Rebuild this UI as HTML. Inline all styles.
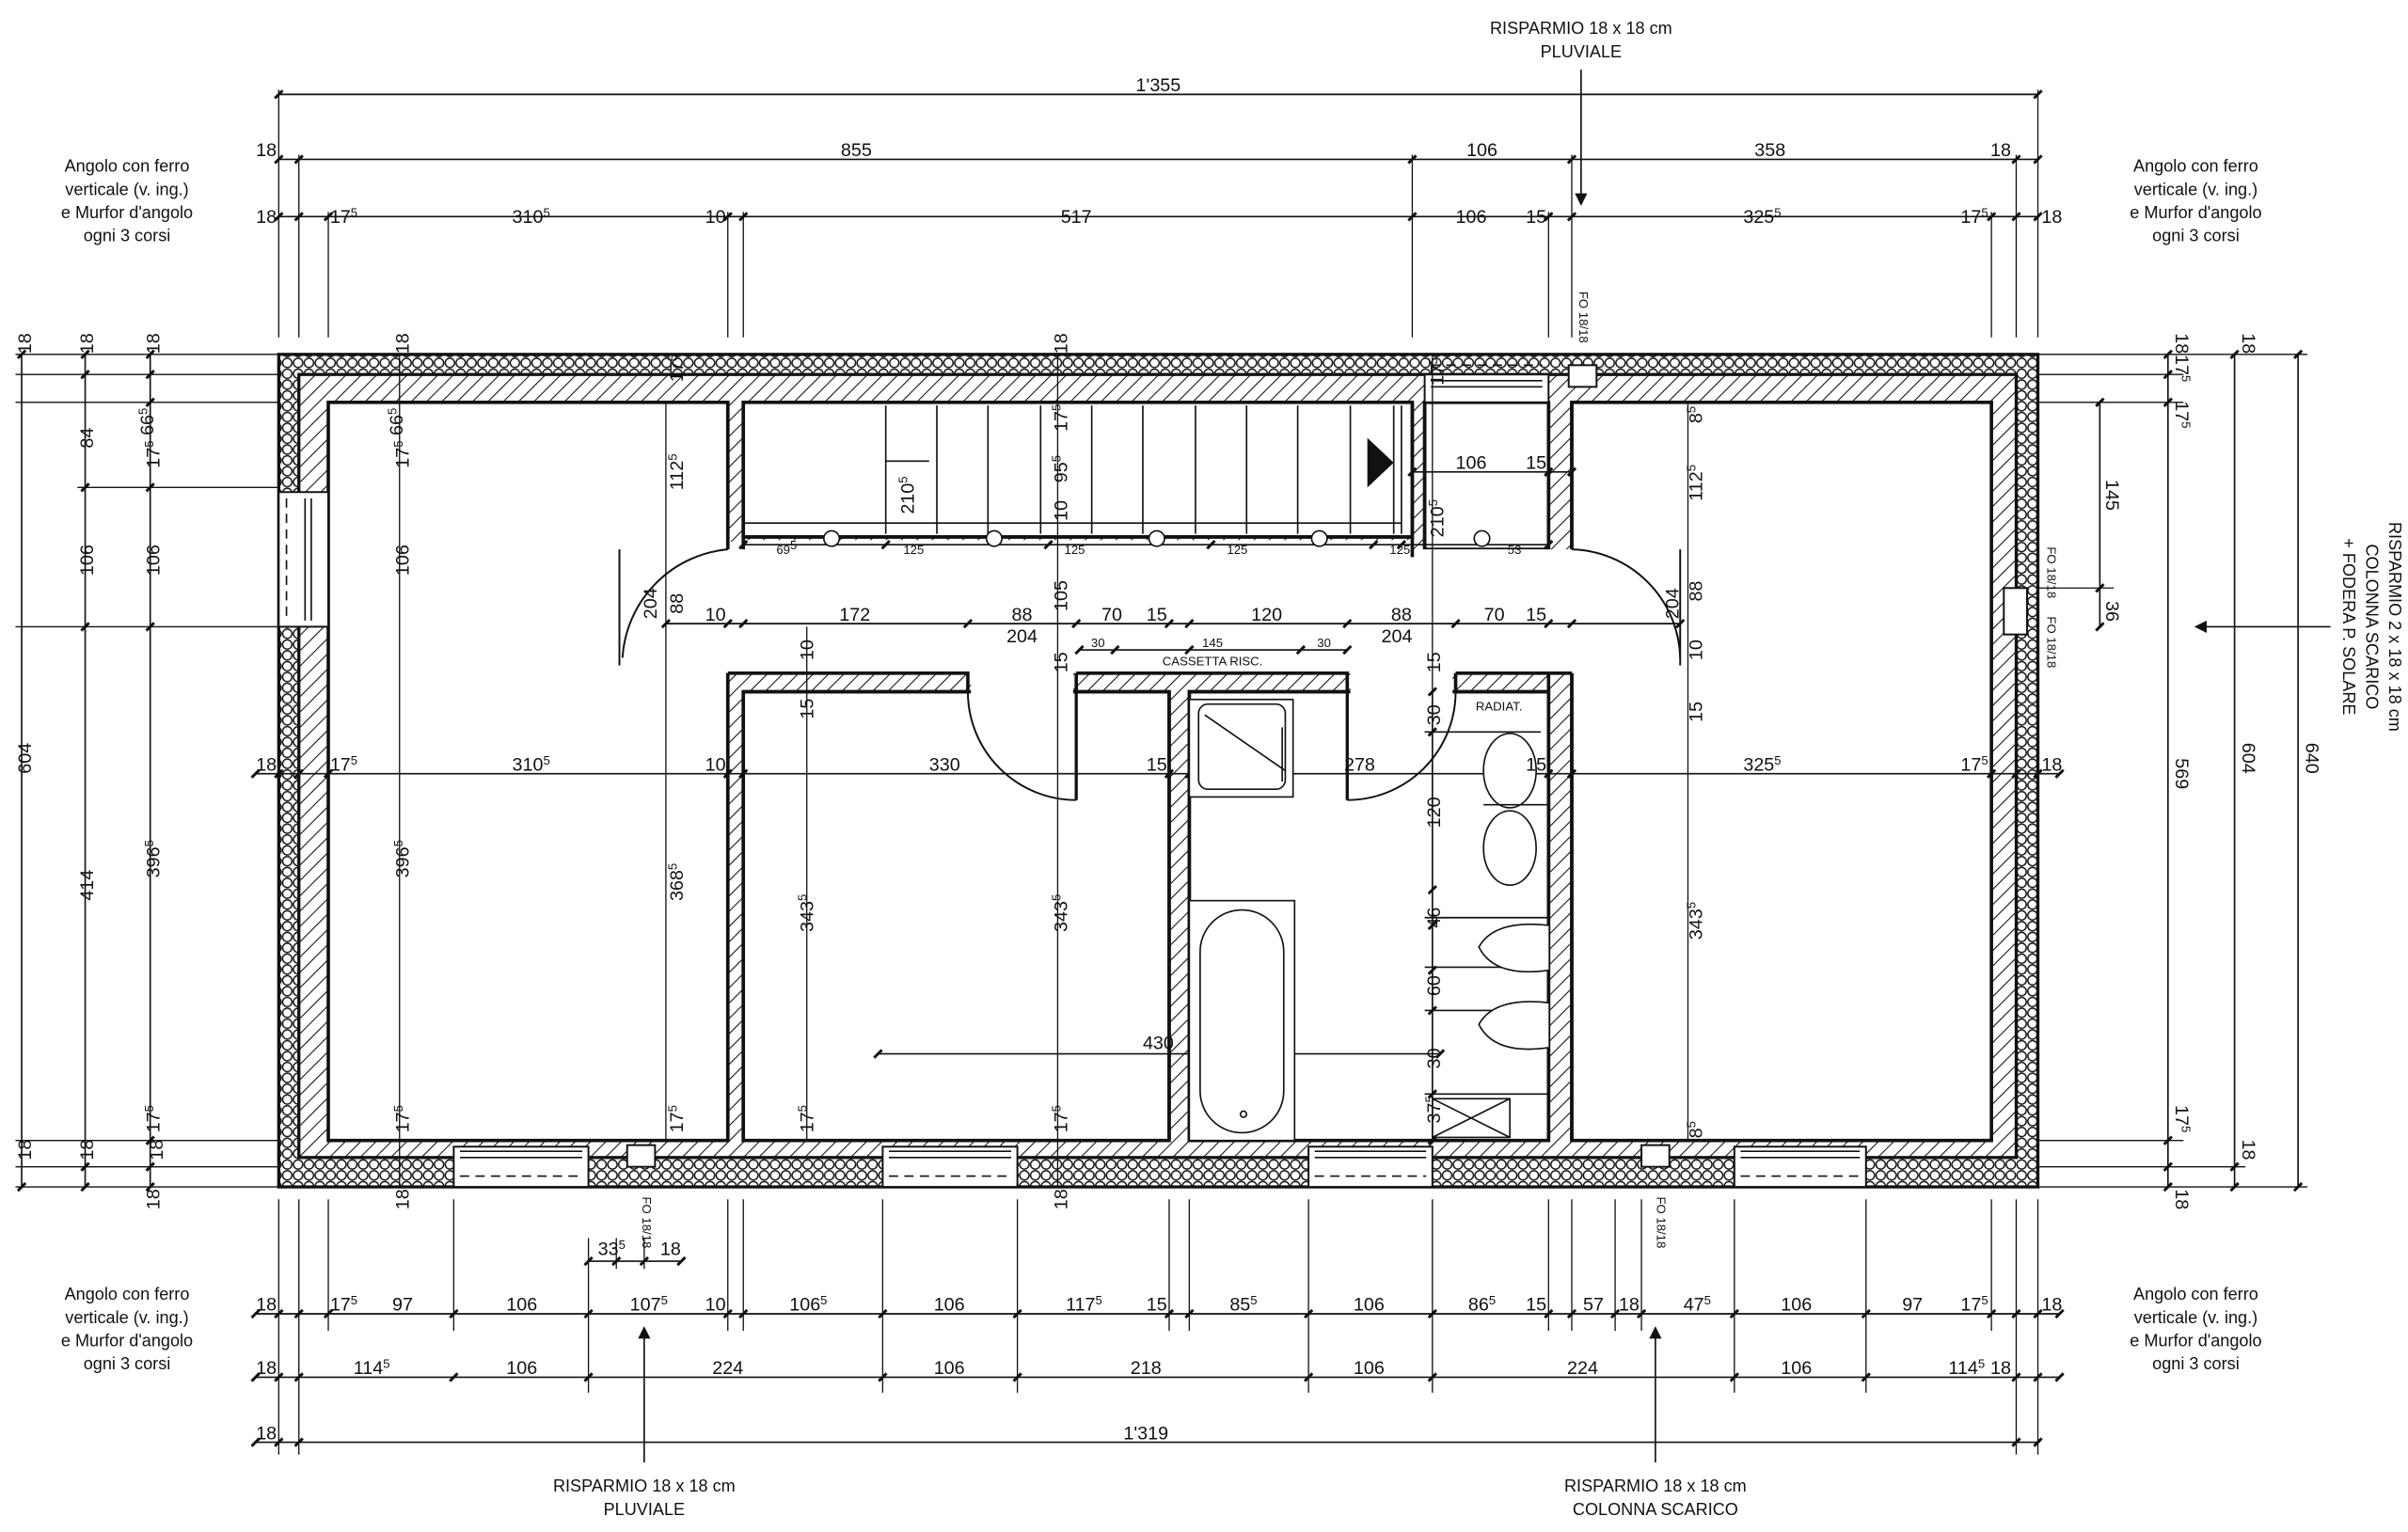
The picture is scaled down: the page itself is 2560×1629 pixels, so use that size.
<!DOCTYPE html>
<html><head><meta charset="utf-8"><style>
html,body{margin:0;padding:0;background:#fff}
svg{display:block}
text{font-family:"Liberation Sans",sans-serif;font-size:12px;fill:#111}
.s{font-size:8px}
.t{font-size:11px}
</style></head><body>
<svg width="2560" height="1629" viewBox="0 0 1555 990" preserveAspectRatio="none" xmlns="http://www.w3.org/2000/svg">
<defs>
<pattern id="h" width="7" height="7" patternUnits="userSpaceOnUse" patternTransform="rotate(45)"><rect width="7" height="7" fill="#fff"/><line x1="0" y1="0" x2="0" y2="7" stroke="#111" stroke-width="1.3"/></pattern>
<pattern id="c" width="7" height="7" patternUnits="userSpaceOnUse"><rect width="7" height="7" fill="#fff"/><circle cx="3.5" cy="3.5" r="3" fill="none" stroke="#111" stroke-width="0.9"/></pattern>
<marker id="t" markerWidth="8" markerHeight="8" refX="4" refY="4" markerUnits="userSpaceOnUse" orient="0"><path d="M1.5,6.5 L6.5,1.5" stroke="#111" stroke-width="1.8"/></marker>
<marker id="a" markerWidth="10" markerHeight="10" refX="5" refY="5" markerUnits="userSpaceOnUse" orient="auto"><path d="M0,1 L8,5 L0,9z" fill="#111"/></marker>
</defs>
<g fill="none" stroke="#111" stroke-width="0.8">
<path d="M180,58V218M193,100V218M212,137V218M470,137V218M480,137V218M912,100V218M1000,137V218M1015,100V218M1286,137V218M1302,100V218M1316,58V218"/>
<path d="M180,775V940M193,775V940M212,775V860M293,775V860M380,800V900M398,800V820M416,800V820M470,775V860M480,775V860M570,775V900M657,775V900M755,775V860M768,775V860M845,775V900M925,775V900M1000,775V860M1015,775V860M1043,775V860M1060,775V860M1120,775V900M1205,775V900M1286,775V860M1302,775V940M1316,775V940"/>
<path d="M10,229H180M10,242H180M10,260H180M50,315H180M10,405H180M10,737H180M10,754H180M10,767H180M1316,229H1490M1316,242H1410M1316,260H1410M1316,380H1365M1316,737H1410M1316,754H1450M1316,767H1490"/>
</g>
<g fill="none" stroke="#111" stroke-width="1" marker-start="url(#t)" marker-mid="url(#t)" marker-end="url(#t)">
<polyline points="180,61 1316,61"/>
<polyline points="180,103 193,103 912,103 1015,103 1302,103 1316,103"/>
<polyline points="180,140 193,140 212,140 470,140 480,140 912,140 1000,140 1015,140 1286,140 1302,140 1316,140"/>
<polyline points="165,849 180,849 193,849 212,849 293,849 380,849 470,849 480,849 570,849 657,849 755,849 768,849 845,849 925,849 1000,849 1015,849 1043,849 1060,849 1120,849 1205,849 1286,849 1302,849 1316,849 1330,849"/>
<polyline points="165,890 180,890 193,890 293,890 380,890 570,890 657,890 845,890 925,890 1120,890 1205,890 1302,890 1316,890 1330,890"/>
<polyline points="165,932 180,932 193,932 1302,932 1316,932"/>
<polyline points="380,815 398,815 416,815 440,815"/>
<polyline points="14,229 14,767"/>
<polyline points="55,229 55,242 55,315 55,405 55,754 55,767"/>
<polyline points="97,229 97,242 97,260 97,315 97,405 97,737 97,754 97,767"/>
<polyline points="1356,260 1356,380 1356,405"/>
<polyline points="1400,229 1400,242 1400,260 1400,737 1400,754 1400,767"/>
<polyline points="1443,229 1443,754 1443,767"/>
<polyline points="1484,229 1484,767"/>
</g>
<rect x="180" y="229" width="1136" height="538" fill="url(#c)" stroke="#111" stroke-width="2"/>
<rect x="193" y="242" width="1109" height="506" fill="url(#h)" stroke="#111" stroke-width="2"/>
<g fill="#fff" stroke="#111" stroke-width="2.2">
<rect x="212" y="260" width="258" height="477"/>
<rect x="480" y="260" width="432" height="87"/>
<rect x="920" y="260" width="80" height="95"/>
<rect x="480" y="447" width="275" height="290"/>
<rect x="768" y="447" width="232" height="290"/>
<rect x="1015" y="260" width="271" height="477"/>
</g>
<g fill="#fff" stroke="none">
<rect x="432" y="350" width="51" height="84"/>
<rect x="995" y="356" width="60" height="78"/>
<rect x="482" y="349" width="428" height="10"/>
<rect x="432" y="355" width="651" height="80"/>
<rect x="627" y="433" width="66" height="16"/>
<rect x="872" y="433" width="66" height="16"/>
<rect x="470" y="433" width="10" height="2"/>
</g>
<g fill="none" stroke="#111" stroke-width="2.2">
<path d="M470,260V355M480,260V355M480,347H912M470,435V737M480,447V737M470,435H625V447H480M695,435H870V447H768V737M755,447V737M695,435V447H755M940,435H1000V737M940,435V447H1000M1000,260V355M1015,260V355M1015,435V737M1000,435H1015M912,260V360M920,260V355"/>
</g>
<g fill="#fff" stroke="#111" stroke-width="1.2">
<rect x="293" y="741" width="87" height="26"/><rect x="570" y="741" width="87" height="26"/><rect x="845" y="741" width="80" height="26"/><rect x="1120" y="741" width="85" height="26"/>
<rect x="180" y="318" width="32" height="87"/>
<rect x="920" y="242" width="80" height="18"/>
</g>
<g fill="none" stroke="#111" stroke-width="1">
<path d="M297,744H376M297,748H376M574,744H653M574,748H653M849,744H921M849,748H921M1124,744H1201M1124,748H1201M197,322V401M201,322V401M924,246H996M924,250H996"/>
<path stroke-dasharray="6,4" d="M297,760H376M574,760H653M849,760H921M1124,760H1201M185,322V401M924,236H996"/>
</g>
<!-- interior dimension lines (drawn over rooms) -->
<g fill="none" stroke="#111" stroke-width="0.8">
<path d="M258,229V767M430,260V737M521,405V737M683,229V767M925,229V737M1090,260V737"/>
</g>
<g fill="none" stroke="#111" stroke-width="1" marker-start="url(#t)" marker-mid="url(#t)" marker-end="url(#t)">
<polyline points="165,500 180,500 193,500 212,500 470,500 480,500 755,500 768,500 1000,500 1015,500 1286,500 1302,500 1316,500 1330,500"/>
<polyline points="430,403 470,403 480,403 625,403 695,403 755,403 768,403 870,403 940,403 1000,403 1015,403 1085,403"/>
<polyline points="697,420 720,420 768,420 840,420 870,420"/>
<polyline points="912,305 1000,305 1015,305"/>
<polyline points="567,681 930,681"/>
<polyline points="480,352 572,352 677,352 782,352 887,352 905,352 1000,352"/>
<polyline points="925,447 925,473 925,575 925,598 925,627 925,653 925,707 925,737"/>
</g>
<g fill="none" stroke="#111" stroke-width="1.2">
<path d="M470,355 A75,75 0 0 0 402,425"/><path d="M400,355V430"/>
<path d="M1015,355 A72,72 0 0 1 1085,425"/><path d="M1085,355V430"/>
<path d="M625,447 A70,70 0 0 0 695,517"/><path d="M695,447V517" stroke-width="2"/>
<path d="M940,447 A70,70 0 0 1 870,517"/><path d="M870,447V517" stroke-width="2"/>
</g>
<g fill="none" stroke="#111" stroke-width="1">
<path d="M572,262V345M605,262V345M638,262V345M672,262V345M705,262V345M738,262V345M772,262V345M805,262V345M838,262V345M872,262V345M900,262V345M905,262V345M572,298H600M480,338H905"/>
<circle cx="537" cy="348" r="5" fill="#fff"/><circle cx="642" cy="348" r="5" fill="#fff"/><circle cx="747" cy="348" r="5" fill="#fff"/><circle cx="852" cy="348" r="5" fill="#fff"/><circle cx="957" cy="348" r="5" fill="#fff"/>
</g>
<path d="M883,283 L900,299 L883,315z" fill="#111"/>
<g fill="none" stroke="#111" stroke-width="1">
<rect x="768" y="452" width="67" height="63" fill="#fff"/><rect x="774" y="455" width="56" height="55" rx="6"/><path d="M778,462L830,498M828,470V505"/>
<rect x="768" y="582" width="68" height="155" fill="#fff"/><rect x="775" y="588" width="54" height="144" rx="27"/><circle cx="803" cy="720" r="2"/>
<ellipse cx="975" cy="498" rx="17" ry="24" fill="#fff"/><ellipse cx="975" cy="548" rx="17" ry="24" fill="#fff"/><path d="M958,520H1000M920,473H995"/>
<path d="M920,593H1000M920,625H1000M920,653H1000M920,707H1000"/>
<path d="M1000,598 Q965,594 955,612 Q965,632 1000,627" fill="#fff"/><path d="M1000,648 Q965,644 955,662 Q965,682 1000,677" fill="#fff"/>
<rect x="925" y="710" width="50" height="25"/><path d="M925,710L975,735M975,710L925,735"/>
</g>
<g fill="#fff" stroke="#111" stroke-width="1.2"><rect x="405" y="740" width="18" height="14"/><rect x="1060" y="740" width="18" height="14"/><rect x="1294" y="380" width="15" height="30"/><rect x="1013" y="236" width="18" height="14"/></g>
<g stroke="#111" stroke-width="1" fill="none">
<line x1="1021" y1="45" x2="1021" y2="130" marker-end="url(#a)"/>
<line x1="416" y1="945" x2="416" y2="860" marker-end="url(#a)"/>
<line x1="1069" y1="945" x2="1069" y2="860" marker-end="url(#a)"/>
<line x1="1505" y1="405" x2="1420" y2="405" marker-end="url(#a)"/>
</g>
<g text-anchor="middle" class="t">
<text x="82" y="111" class="t">Angolo con ferro</text><text x="82" y="126" class="t">verticale (v. ing.)</text><text x="82" y="141" class="t">e Murfor d'angolo</text><text x="82" y="156" class="t">ogni 3 corsi</text>
<text x="1418" y="111" class="t">Angolo con ferro</text><text x="1418" y="126" class="t">verticale (v. ing.)</text><text x="1418" y="141" class="t">e Murfor d'angolo</text><text x="1418" y="156" class="t">ogni 3 corsi</text>
<text x="82" y="840" class="t">Angolo con ferro</text><text x="82" y="855" class="t">verticale (v. ing.)</text><text x="82" y="870" class="t">e Murfor d'angolo</text><text x="82" y="885" class="t">ogni 3 corsi</text>
<text x="1418" y="840" class="t">Angolo con ferro</text><text x="1418" y="855" class="t">verticale (v. ing.)</text><text x="1418" y="870" class="t">e Murfor d'angolo</text><text x="1418" y="885" class="t">ogni 3 corsi</text>
<text x="1021" y="22" class="t">RISPARMIO 18 x 18 cm</text><text x="1021" y="37" class="t">PLUVIALE</text>
<text x="416" y="964" class="t">RISPARMIO 18 x 18 cm</text><text x="416" y="979" class="t">PLUVIALE</text>
<text x="1069" y="964" class="t">RISPARMIO 18 x 18 cm</text><text x="1069" y="979" class="t">COLONNA SCARICO</text>
<g transform="rotate(90 1528 405)"><text x="1528" y="390" class="t">RISPARMIO 2 x 18 x 18 cm</text><text x="1528" y="405" class="t">COLONNA SCARICO</text><text x="1528" y="420" class="t">+ FODERA P. SOLARE</text></g>
</g>
<g text-anchor="middle">
<text x="748" y="59">1'355</text>
<text x="172" y="101">18</text><text x="553" y="101">855</text><text x="957" y="101">106</text><text x="1143" y="101">358</text><text x="1292" y="101">18</text>
<text x="172" y="144">18</text><text x="222" y="144">17<tspan class="s" dy="-4">5</tspan></text><text x="343" y="144">310<tspan class="s" dy="-4">5</tspan></text><text x="462" y="144">10</text><text x="695" y="144">517</text><text x="950" y="144">106</text><text x="992" y="144">15</text><text x="1138" y="144">325<tspan class="s" dy="-4">5</tspan></text><text x="1275" y="144">17<tspan class="s" dy="-4">5</tspan></text><text x="1325" y="144">18</text>
<text x="172" y="847">18</text><text x="222" y="847">17<tspan class="s" dy="-4">5</tspan></text><text x="260" y="847">97</text><text x="337" y="847">106</text><text x="419" y="847">107<tspan class="s" dy="-4">5</tspan></text><text x="462" y="847">10</text><text x="522" y="847">106<tspan class="s" dy="-4">5</tspan></text><text x="613" y="847">106</text><text x="700" y="847">117<tspan class="s" dy="-4">5</tspan></text><text x="747" y="847">15</text><text x="803" y="847">85<tspan class="s" dy="-4">5</tspan></text><text x="884" y="847">106</text><text x="957" y="847">86<tspan class="s" dy="-4">5</tspan></text><text x="992" y="847">15</text><text x="1029" y="847">57</text><text x="1052" y="847">18</text><text x="1096" y="847">47<tspan class="s" dy="-4">5</tspan></text><text x="1160" y="847">106</text><text x="1235" y="847">97</text><text x="1275" y="847">17<tspan class="s" dy="-4">5</tspan></text><text x="1325" y="847">18</text>
<text x="172" y="888">18</text><text x="240" y="888">114<tspan class="s" dy="-4">5</tspan></text><text x="337" y="888">106</text><text x="470" y="888">224</text><text x="613" y="888">106</text><text x="740" y="888">218</text><text x="884" y="888">106</text><text x="1022" y="888">224</text><text x="1160" y="888">106</text><text x="1270" y="888">114<tspan class="s" dy="-4">5</tspan></text><text x="1292" y="888">18</text>
<text x="172" y="930">18</text><text x="740" y="930">1'319</text>
<text x="395" y="811">33<tspan class="s" dy="-4">5</tspan></text><text x="433" y="811">18</text>
<text x="172" y="498">18</text><text x="222" y="498">17<tspan class="s" dy="-4">5</tspan></text><text x="343" y="498">310<tspan class="s" dy="-4">5</tspan></text><text x="462" y="498">10</text><text x="610" y="498">330</text><text x="747" y="498">15</text><text x="878" y="498">278</text><text x="992" y="498">15</text><text x="1138" y="498">325<tspan class="s" dy="-4">5</tspan></text><text x="1275" y="498">17<tspan class="s" dy="-4">5</tspan></text><text x="1325" y="498">18</text>
<text x="462" y="401">10</text><text x="552" y="401">172</text><text x="660" y="401">88</text><text x="660" y="415">204</text><text x="718" y="401">70</text><text x="747" y="401">15</text><text x="818" y="401">120</text><text x="905" y="401">88</text><text x="902" y="415">204</text><text x="965" y="401">70</text><text x="992" y="401">15</text>
<text x="709" y="418" class="s">30</text><text x="783" y="418" class="s">145</text><text x="855" y="418" class="s">30</text>
<text x="783" y="430" class="s">CASSETTA RISC.</text><text x="968" y="459" class="s">RADIAT.</text>
<text x="950" y="303">106</text><text x="992" y="303">15</text>
<text x="748" y="678">430</text>
<text x="508" y="358" class="s">69<tspan dy="-3">5</tspan></text><text x="590" y="358" class="s">125</text><text x="694" y="358" class="s">125</text><text x="799" y="358" class="s">125</text><text x="904" y="358" class="s">125</text><text x="978" y="358" class="s">53</text>
</g>
<g text-anchor="middle">
<text transform="rotate(-90 20 490)" x="20" y="490">604</text>
<text transform="rotate(-90 60 222)" x="60" y="222">18</text><text transform="rotate(-90 60 283)" x="60" y="283">84</text><text transform="rotate(-90 60 362)" x="60" y="362">106</text><text transform="rotate(-90 60 572)" x="60" y="572">414</text><text transform="rotate(-90 60 743)" x="60" y="743">18</text>
<text transform="rotate(-90 103 222)" x="103" y="222">18</text><text transform="rotate(-90 103 283)" x="103" y="283">17<tspan class="s" dy="-4">5</tspan> 66<tspan class="s" dy="-4">5</tspan></text><text transform="rotate(-90 103 362)" x="103" y="362">106</text><text transform="rotate(-90 103 555)" x="103" y="555">396<tspan class="s" dy="-4">5</tspan></text><text transform="rotate(-90 103 723)" x="103" y="723">17<tspan class="s" dy="-4">5</tspan></text><text transform="rotate(-90 103 743)" x="103" y="745">18</text><text transform="rotate(-90 103 775)" x="103" y="775">18</text>
<text transform="rotate(-90 264 222)" x="264" y="222">18</text><text transform="rotate(-90 264 283)" x="264" y="283">17<tspan class="s" dy="-4">5</tspan> 66<tspan class="s" dy="-4">5</tspan></text><text transform="rotate(-90 264 362)" x="264" y="362">106</text><text transform="rotate(-90 264 555)" x="264" y="555">396<tspan class="s" dy="-4">5</tspan></text><text transform="rotate(-90 264 723)" x="264" y="723">17<tspan class="s" dy="-4">5</tspan></text><text transform="rotate(-90 264 775)" x="264" y="775">18</text>
<text transform="rotate(-90 441 305)" x="441" y="305">112<tspan class="s" dy="-4">5</tspan></text><text transform="rotate(-90 424 390)" x="424" y="390">204</text><text transform="rotate(-90 441 390)" x="441" y="390">88</text><text transform="rotate(-90 441 570)" x="441" y="570">368<tspan class="s" dy="-4">5</tspan></text><text transform="rotate(-90 441 723)" x="441" y="723">17<tspan class="s" dy="-4">5</tspan></text><text transform="rotate(-90 441 238)" x="441" y="238">17<tspan class="s" dy="-4">5</tspan></text>
<text transform="rotate(-90 525 420)" x="525" y="420">10</text><text transform="rotate(-90 525 458)" x="525" y="458">15</text><text transform="rotate(-90 525 590)" x="525" y="590">343<tspan class="s" dy="-4">5</tspan></text><text transform="rotate(-90 525 723)" x="525" y="723">17<tspan class="s" dy="-4">5</tspan></text>
<text transform="rotate(-90 590 320)" x="590" y="320">210<tspan class="s" dy="-4">5</tspan></text>
<text transform="rotate(-90 689 222)" x="689" y="222">18</text><text transform="rotate(-90 689 270)" x="689" y="270">17<tspan class="s" dy="-4">5</tspan></text><text transform="rotate(-90 689 303)" x="689" y="303">95<tspan class="s" dy="-4">5</tspan></text><text transform="rotate(-90 689 330)" x="689" y="330">10</text><text transform="rotate(-90 689 385)" x="689" y="385">105</text><text transform="rotate(-90 689 428)" x="689" y="428">15</text><text transform="rotate(-90 689 590)" x="689" y="590">343<tspan class="s" dy="-4">5</tspan></text><text transform="rotate(-90 689 723)" x="689" y="723">17<tspan class="s" dy="-4">5</tspan></text><text transform="rotate(-90 689 775)" x="689" y="775">18</text>
<text transform="rotate(-90 932 240)" x="932" y="240">17<tspan class="s" dy="-4">5</tspan></text><text transform="rotate(-90 932 335)" x="932" y="335">210<tspan class="s" dy="-4">5</tspan></text><text transform="rotate(-90 930 428)" x="930" y="428">15</text><text transform="rotate(-90 930 462)" x="930" y="462">30</text><text transform="rotate(-90 930 525)" x="930" y="525">120</text><text transform="rotate(-90 930 593)" x="930" y="593">46</text><text transform="rotate(-90 930 637)" x="930" y="637">60</text><text transform="rotate(-90 930 684)" x="930" y="684">30</text><text transform="rotate(-90 930 717)" x="930" y="717">37<tspan class="s" dy="-4">5</tspan></text>
<text transform="rotate(-90 1099 268)" x="1099" y="268">8<tspan class="s" dy="-4">5</tspan></text><text transform="rotate(-90 1099 312)" x="1099" y="312">112<tspan class="s" dy="-4">5</tspan></text><text transform="rotate(-90 1099 382)" x="1099" y="382">88</text><text transform="rotate(-90 1084 390)" x="1084" y="390">204</text><text transform="rotate(-90 1099 420)" x="1099" y="420">10</text><text transform="rotate(-90 1099 460)" x="1099" y="460">15</text><text transform="rotate(-90 1099 595)" x="1099" y="595">343<tspan class="s" dy="-4">5</tspan></text><text transform="rotate(-90 1099 730)" x="1099" y="730">8<tspan class="s" dy="-4">5</tspan></text>
<text transform="rotate(90 1020 205)" x="1020" y="205" class="s">FO 18/18</text><text transform="rotate(90 1070 790)" x="1070" y="790" class="s">FO 18/18</text><text transform="rotate(90 415 790)" x="415" y="790" class="s">FO 18/18</text><text transform="rotate(90 1322 370)" x="1322" y="370" class="s">FO 18/18</text><text transform="rotate(90 1322 415)" x="1322" y="415" class="s">FO 18/18</text>
<text transform="rotate(90 1360 320)" x="1360" y="320">145</text><text transform="rotate(90 1360 395)" x="1360" y="395">36</text>
<text transform="rotate(90 1405 222)" x="1405" y="222">18</text><text transform="rotate(90 1405 238)" x="1405" y="238">17<tspan class="s" dy="-4">5</tspan></text><text transform="rotate(90 1405 268)" x="1405" y="268">17<tspan class="s" dy="-4">5</tspan></text><text transform="rotate(90 1405 500)" x="1405" y="500">569</text><text transform="rotate(90 1405 723)" x="1405" y="723">17<tspan class="s" dy="-4">5</tspan></text><text transform="rotate(90 1405 775)" x="1405" y="775">18</text>
<text transform="rotate(90 1448 222)" x="1448" y="222">18</text><text transform="rotate(90 1448 490)" x="1448" y="490">604</text><text transform="rotate(90 1448 743)" x="1448" y="743">18</text>
<text transform="rotate(90 1489 490)" x="1489" y="490">640</text>
<text transform="rotate(-90 20 222)" x="20" y="222">18</text><text transform="rotate(-90 20 743)" x="20" y="743">18</text>
</g>
</svg>
</body></html>
